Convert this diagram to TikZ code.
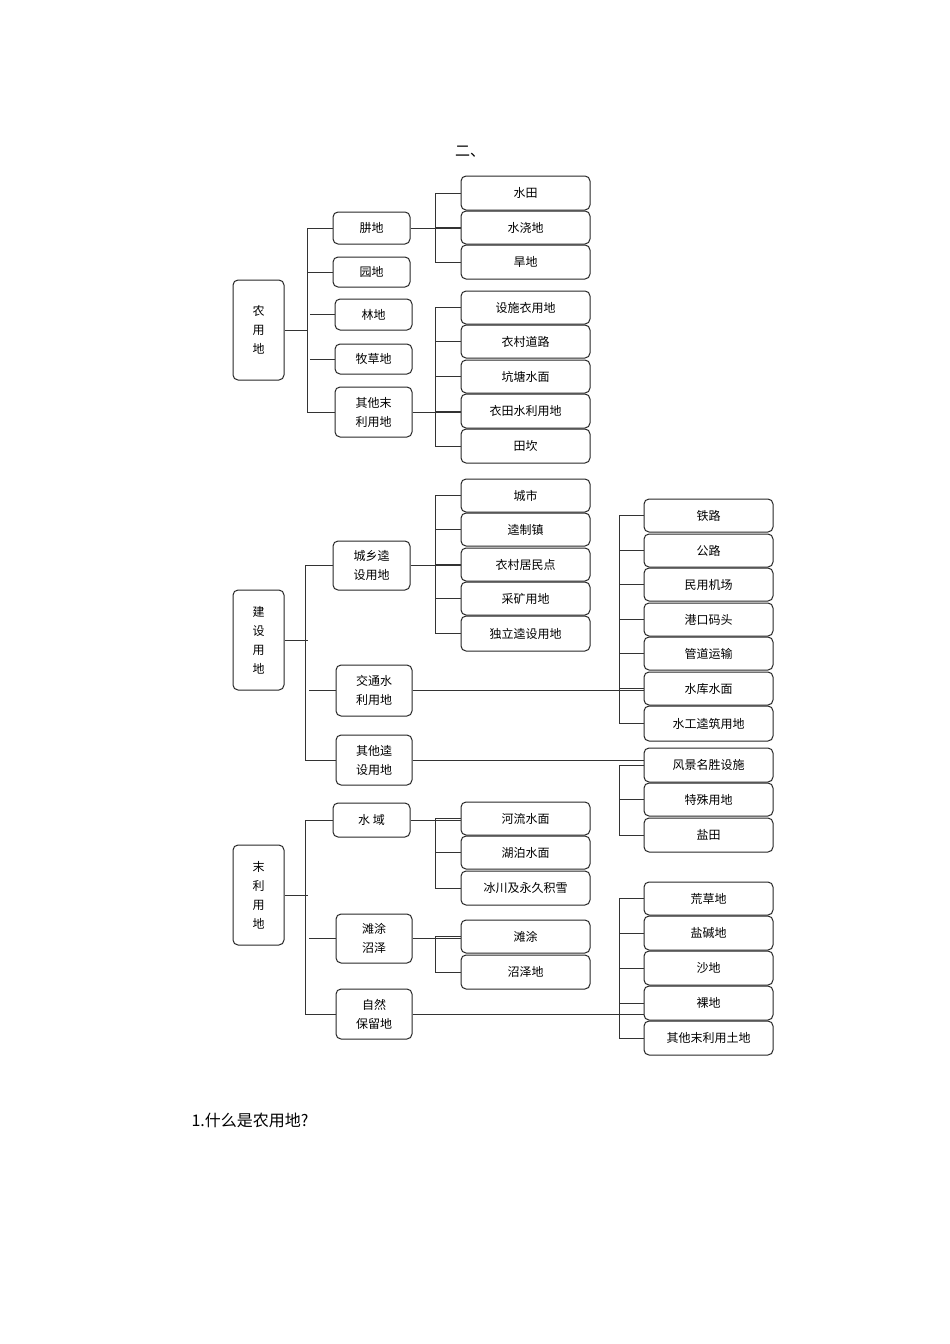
\documentclass[tikz,border=0pt]{standalone}
\usepackage{fontspec}
\setmainfont{Noto Sans CJK SC}
\begin{document}
\begin{tikzpicture}[x=1pt,y=-1pt,
 bx/.style={draw=black!85,line width=1pt,rounded corners=5pt,inner sep=0pt,align=center,font=\fontsize{12}{19}\selectfont},
 ln/.style={draw=black!80,line width=0.9pt}]
\useasboundingbox (0,0) rectangle (950,1344);
\newcommand\bx[6]{\node[bx,minimum width={#4-#2},minimum height={#5-#3}] (#1) at ({(#2+#4)/2},{(#3+#5)/2}) {#6};}
\node (t) at (470,152) {\fontsize{15}{15}\selectfont 二、};
% ---- 农用地
\bx{A}{233}{280}{284}{380}{农\\用\\地}
\bx{A1}{333}{212}{410}{244}{肼地}
\bx{A2}{333}{257}{410}{287}{园地}
\bx{A3}{335}{299}{412}{330}{林地}
\bx{A4}{335}{344}{412}{374}{牧草地}
\bx{A5}{335}{387}{412}{437}{其他末\\利用地}
\bx{A11}{461}{176}{590}{210}{水田}
\bx{A12}{461}{211}{590}{244}{水浇地}
\bx{A13}{461}{245}{590}{279}{旱地}
\bx{A51}{461}{291}{590}{324}{设施衣用地}
\bx{A52}{461}{325}{590}{358}{衣村道路}
\bx{A53}{461}{360}{590}{393}{坑塘水面}
\bx{A54}{461}{394}{590}{428}{衣田水利用地}
\bx{A55}{461}{429}{590}{463}{田坎}
% ---- 建设用地
\bx{B}{233}{590}{284}{690}{建\\设\\用\\地}
\bx{B1}{333}{541}{410}{590}{城乡逵\\设用地}
\bx{B2}{336}{665}{412}{716}{交通水\\利用地}
\bx{B3}{336}{735}{412}{785}{其他逵\\设用地}
\bx{B11}{461}{479}{590}{512}{城市}
\bx{B12}{461}{513}{590}{546}{逵制镇}
\bx{B13}{461}{548}{590}{581}{衣村居民点}
\bx{B14}{461}{582}{590}{615}{采矿用地}
\bx{B15}{461}{616}{590}{651}{独立逵设用地}
\bx{B21}{644}{499}{773}{532}{铁路}
\bx{B22}{644}{534}{773}{567}{公路}
\bx{B23}{644}{568}{773}{601}{民用机场}
\bx{B24}{644}{603}{773}{636}{港口码头}
\bx{B25}{644}{637}{773}{670}{管道运输}
\bx{B26}{644}{672}{773}{705}{水库水面}
\bx{B27}{644}{706}{773}{741}{水工逵筑用地}
\bx{B31}{644}{748}{773}{782}{风景名胜设施}
\bx{B32}{644}{783}{773}{816}{特殊用地}
\bx{B33}{644}{818}{773}{852}{盐田}
% ---- 未利用地
\bx{C}{233}{845}{284}{945}{末\\利\\用\\地}
\bx{C1}{333}{803}{410}{837}{水\ 域}
\bx{C2}{336}{914}{412}{963}{滩涂\\沼泽}
\bx{C3}{336}{989}{412}{1039}{自然\\保留地}
\bx{C11}{461}{802}{590}{835}{河流水面}
\bx{C12}{461}{836}{590}{869}{湖泊水面}
\bx{C13}{461}{871}{590}{905}{冰川及永久积雪}
\bx{C21}{461}{920}{590}{953}{滩涂}
\bx{C22}{461}{955}{590}{989}{沼泽地}
\bx{C31}{644}{882}{773}{915}{荒草地}
\bx{C32}{644}{916}{773}{950}{盐碱地}
\bx{C33}{644}{951}{773}{985}{沙地}
\bx{C34}{644}{986}{773}{1020}{裸地}
\bx{C35}{644}{1021}{773}{1055}{其他末利用土地}
% ---- connectors
\newcommand\spine[4]{% first, last, middles, offset
 \draw[ln] (#1.west) -- ++(-#4,0) |- (#2.west);
 \foreach \m in {#3} {\draw[ln] (\m.west) -- ++(-#4,0);}}
\spine{A1}{A5}{A2,A3,A4}{25}
\draw[ln] (A.east) -- (A.east -| 308,0);
\spine{A11}{A13}{A12}{25}
\draw[ln] (A1.east) -- (A1.east -| A12.west);
\spine{A51}{A55}{A52,A53,A54}{25}
\draw[ln] (A5.east) -- (A5.east -| A54.west);
\spine{B1}{B3}{B2}{27}
\draw[ln] (B.east) -- (B.east -| 308,0);
\spine{B11}{B15}{B12,B13,B14}{25}
\draw[ln] (B1.east) -- (B1.east -| B13.west);
\spine{B21}{B27}{B22,B23,B24,B25,B26}{24}
\draw[ln] (B2.east) -- (B2.east -| B26.west);
\spine{B31}{B33}{B32}{24}
\draw[ln] (B3.east) -- (B3.east -| B31.west);
\spine{C1}{C3}{C2}{27}
\draw[ln] (C.east) -- (C.east -| 308,0);
\spine{C11}{C13}{C12}{25}
\draw[ln] (C1.east) -- (C1.east -| C11.west);
\spine{C21}{C22}{}{25}
\draw[ln] (C2.east) -- (C2.east -| C21.west);
\spine{C31}{C35}{C32,C33,C34}{24}
\draw[ln] (C3.east) -- (C3.east -| C34.west);
\node[anchor=west,font=\fontsize{16}{16}\selectfont] (q) at (188,1120) {1.什么是农用地?};
\end{tikzpicture}
\end{document}
